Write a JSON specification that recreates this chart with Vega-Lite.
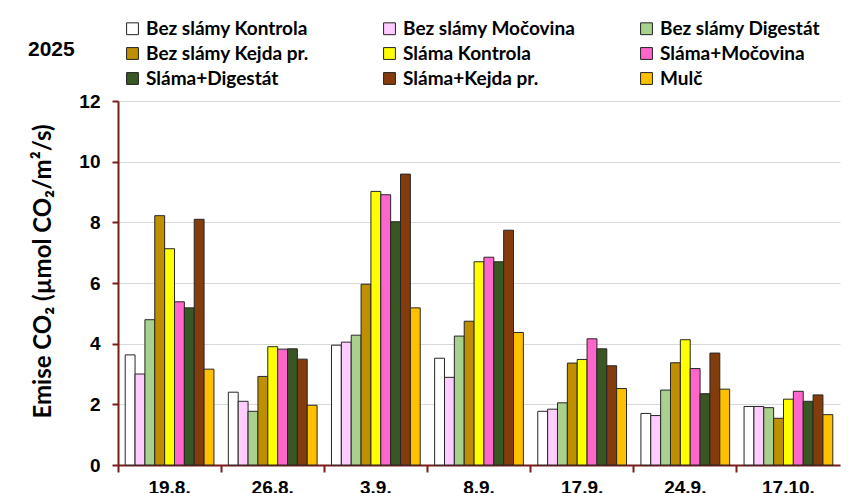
{
  "$schema": "https://vega.github.io/schema/vega-lite/v6.json",
  "width": 722,
  "height": 364,
  "autosize": {"type": "none"},
  "padding": {"left": 118, "top": 101, "right": 8, "bottom": 28},
  "background": "white",
  "title": {"text": "2025", "anchor": "start", "frame": "group", "dx": -90, "offset": -41, "font": "Liberation Sans", "fontSize": 21, "fontWeight": "bold", "color": "black"},
  "data": {"values": [
    {"date": "19.8.", "treatment": "Bez slámy Kontrola", "value": 3.63},
    {"date": "19.8.", "treatment": "Bez slámy Močovina", "value": 3.0},
    {"date": "19.8.", "treatment": "Bez slámy Digestát", "value": 4.79},
    {"date": "19.8.", "treatment": "Bez slámy Kejda pr.", "value": 8.22},
    {"date": "19.8.", "treatment": "Sláma Kontrola", "value": 7.13},
    {"date": "19.8.", "treatment": "Sláma+Močovina", "value": 5.38},
    {"date": "19.8.", "treatment": "Sláma+Digestát", "value": 5.18},
    {"date": "19.8.", "treatment": "Sláma+Kejda pr.", "value": 8.1},
    {"date": "19.8.", "treatment": "Mulč", "value": 3.16},
    {"date": "26.8.", "treatment": "Bez slámy Kontrola", "value": 2.4},
    {"date": "26.8.", "treatment": "Bez slámy Močovina", "value": 2.1},
    {"date": "26.8.", "treatment": "Bez slámy Digestát", "value": 1.77},
    {"date": "26.8.", "treatment": "Bez slámy Kejda pr.", "value": 2.92},
    {"date": "26.8.", "treatment": "Sláma Kontrola", "value": 3.9},
    {"date": "26.8.", "treatment": "Sláma+Močovina", "value": 3.82},
    {"date": "26.8.", "treatment": "Sláma+Digestát", "value": 3.83},
    {"date": "26.8.", "treatment": "Sláma+Kejda pr.", "value": 3.49},
    {"date": "26.8.", "treatment": "Mulč", "value": 1.97},
    {"date": "3.9.", "treatment": "Bez slámy Kontrola", "value": 3.95},
    {"date": "3.9.", "treatment": "Bez slámy Močovina", "value": 4.05},
    {"date": "3.9.", "treatment": "Bez slámy Digestát", "value": 4.28},
    {"date": "3.9.", "treatment": "Bez slámy Kejda pr.", "value": 5.96},
    {"date": "3.9.", "treatment": "Sláma Kontrola", "value": 9.02},
    {"date": "3.9.", "treatment": "Sláma+Močovina", "value": 8.91},
    {"date": "3.9.", "treatment": "Sláma+Digestát", "value": 8.02},
    {"date": "3.9.", "treatment": "Sláma+Kejda pr.", "value": 9.59},
    {"date": "3.9.", "treatment": "Mulč", "value": 5.18},
    {"date": "8.9.", "treatment": "Bez slámy Kontrola", "value": 3.52},
    {"date": "8.9.", "treatment": "Bez slámy Močovina", "value": 2.89},
    {"date": "8.9.", "treatment": "Bez slámy Digestát", "value": 4.25},
    {"date": "8.9.", "treatment": "Bez slámy Kejda pr.", "value": 4.74},
    {"date": "8.9.", "treatment": "Sláma Kontrola", "value": 6.7},
    {"date": "8.9.", "treatment": "Sláma+Močovina", "value": 6.85},
    {"date": "8.9.", "treatment": "Sláma+Digestát", "value": 6.7},
    {"date": "8.9.", "treatment": "Sláma+Kejda pr.", "value": 7.74},
    {"date": "8.9.", "treatment": "Mulč", "value": 4.37},
    {"date": "17.9.", "treatment": "Bez slámy Kontrola", "value": 1.77},
    {"date": "17.9.", "treatment": "Bez slámy Močovina", "value": 1.84},
    {"date": "17.9.", "treatment": "Bez slámy Digestát", "value": 2.05},
    {"date": "17.9.", "treatment": "Bez slámy Kejda pr.", "value": 3.36},
    {"date": "17.9.", "treatment": "Sláma Kontrola", "value": 3.48},
    {"date": "17.9.", "treatment": "Sláma+Močovina", "value": 4.16},
    {"date": "17.9.", "treatment": "Sláma+Digestát", "value": 3.83},
    {"date": "17.9.", "treatment": "Sláma+Kejda pr.", "value": 3.27},
    {"date": "17.9.", "treatment": "Mulč", "value": 2.52},
    {"date": "24.9.", "treatment": "Bez slámy Kontrola", "value": 1.7},
    {"date": "24.9.", "treatment": "Bez slámy Močovina", "value": 1.63},
    {"date": "24.9.", "treatment": "Bez slámy Digestát", "value": 2.47},
    {"date": "24.9.", "treatment": "Bez slámy Kejda pr.", "value": 3.37},
    {"date": "24.9.", "treatment": "Sláma Kontrola", "value": 4.13},
    {"date": "24.9.", "treatment": "Sláma+Močovina", "value": 3.18},
    {"date": "24.9.", "treatment": "Sláma+Digestát", "value": 2.35},
    {"date": "24.9.", "treatment": "Sláma+Kejda pr.", "value": 3.69},
    {"date": "24.9.", "treatment": "Mulč", "value": 2.5},
    {"date": "17.10.", "treatment": "Bez slámy Kontrola", "value": 1.93},
    {"date": "17.10.", "treatment": "Bez slámy Močovina", "value": 1.93},
    {"date": "17.10.", "treatment": "Bez slámy Digestát", "value": 1.89},
    {"date": "17.10.", "treatment": "Bez slámy Kejda pr.", "value": 1.54},
    {"date": "17.10.", "treatment": "Sláma Kontrola", "value": 2.17},
    {"date": "17.10.", "treatment": "Sláma+Močovina", "value": 2.43},
    {"date": "17.10.", "treatment": "Sláma+Digestát", "value": 2.1},
    {"date": "17.10.", "treatment": "Sláma+Kejda pr.", "value": 2.31},
    {"date": "17.10.", "treatment": "Mulč", "value": 1.66}
  ]},
  "mark": {"type": "bar", "stroke": "#262626", "strokeWidth": 1},
  "encoding": {
    "x": {
      "field": "date", "type": "nominal",
      "sort": ["19.8.", "26.8.", "3.9.", "8.9.", "17.9.", "24.9.", "17.10."],
      "scale": {"paddingInner": 0, "paddingOuter": 0},
      "axis": {"title": null, "labelAngle": 0, "bandPosition": 0, "grid": false, "domainColor": "#7b1c1c", "domainWidth": 2, "tickColor": "#7b1c1c", "tickWidth": 2, "tickSize": 7, "labelPadding": 6, "labelFont": "Liberation Sans", "labelFontSize": 19, "labelFontWeight": "bold", "labelColor": "black"}
    },
    "xOffset": {
      "field": "treatment", "type": "nominal",
      "sort": ["Bez slámy Kontrola", "Bez slámy Močovina", "Bez slámy Digestát", "Bez slámy Kejda pr.", "Sláma Kontrola", "Sláma+Močovina", "Sláma+Digestát", "Sláma+Kejda pr.", "Mulč"],
      "scale": {"paddingInner": 0, "paddingOuter": 0.73}
    },
    "y": {
      "field": "value", "type": "quantitative",
      "scale": {"domain": [0, 12], "nice": false},
      "axis": {"values": [0, 2, 4, 6, 8, 10, 12], "title": "Emise CO₂ (µmol CO₂/m²/s)", "grid": true, "gridColor": "#d9d9d9", "domainColor": "#7b1c1c", "domainWidth": 2, "tickColor": "#7b1c1c", "tickWidth": 2, "tickSize": 6, "labelPadding": 12, "labelFont": "Liberation Sans", "labelFontSize": 19, "labelFontWeight": "bold", "labelColor": "black", "titleFont": "Lato", "titleFontSize": 24, "titleFontWeight": "bold", "titleColor": "black", "titlePadding": 23, "titleY": 170}
    },
    "color": {
      "field": "treatment", "type": "nominal",
      "scale": {
        "domain": ["Bez slámy Kontrola", "Bez slámy Kejda pr.", "Sláma+Digestát", "Bez slámy Močovina", "Sláma Kontrola", "Sláma+Kejda pr.", "Bez slámy Digestát", "Sláma+Močovina", "Mulč"],
        "range": ["#ffffff", "#bf8f00", "#385723", "#ffccff", "#ffff00", "#843c0c", "#a9d18e", "#ff66cc", "#ffc000"]
      },
      "legend": {"title": null, "orient": "none", "legendX": 5, "legendY": -82, "columns": 3, "gridAlign": "all", "columnPadding": 61, "rowPadding": 5, "symbolType": "square", "symbolSize": 140, "symbolStrokeColor": "#222222", "symbolStrokeWidth": 1, "labelFont": "Lato", "labelFontSize": 19, "labelFontWeight": "bold", "labelColor": "black", "labelOffset": 4, "labelLimit": 300}
    }
  },
  "config": {"view": {"stroke": null}}
}
